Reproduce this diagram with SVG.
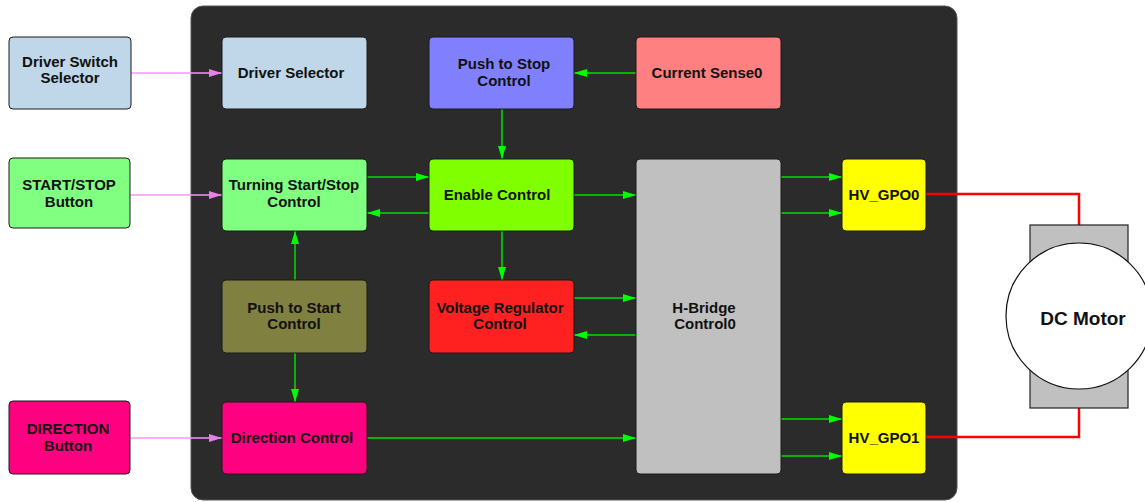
<svg xmlns="http://www.w3.org/2000/svg" width="1145" height="502" viewBox="0 0 1145 502">
<defs>
<style>
.n{stroke:#1a1a1a;stroke-width:1}
.t{font-family:"Liberation Sans",Arial,sans-serif;font-weight:bold;font-size:15px;fill:#111;text-anchor:middle}
.g{stroke:#00e000;stroke-width:1.5;fill:none;marker-end:url(#ag)}
.p{stroke:#f59af5;stroke-width:1.5;fill:none;marker-end:url(#ap)}
.r{stroke:#ff0000;stroke-width:2.5;fill:none}
</style>
<marker id="ag" markerUnits="userSpaceOnUse" markerWidth="14" markerHeight="9" refX="13" refY="4" orient="auto"><path d="M0,0 L13,4 L0,8 z" fill="#00ff00"/></marker>
<marker id="ap" markerUnits="userSpaceOnUse" markerWidth="14" markerHeight="9" refX="13" refY="4" orient="auto"><path d="M0,0 L13,4 L0,8 z" fill="#e880e8"/></marker>
</defs>
<rect width="1145" height="502" fill="#ffffff"/>
<rect id="container" x="191" y="6" width="766" height="494" rx="12" fill="#2b2b2b" stroke="#555" stroke-width="1"/>

<g id="connectors">
<path class="p" d="M131,73 L222,73"/>
<path class="p" d="M130,195 L222,195"/>
<path class="p" d="M130,438 L222,438"/>
<path class="g" d="M636,73 L574,73"/>
<path class="g" d="M502,109 L502,159"/>
<path class="g" d="M367,177 L429,177"/>
<path class="g" d="M429,213 L367,213"/>
<path class="g" d="M574,195 L636,195"/>
<path class="g" d="M502,231 L502,280"/>
<path class="g" d="M574,298 L636,298"/>
<path class="g" d="M636,335 L574,335"/>
<path class="g" d="M295,280 L295,231"/>
<path class="g" d="M295,353 L295,402"/>
<path class="g" d="M367,438 L636,438"/>
<path class="g" d="M781,177 L842,177"/>
<path class="g" d="M781,213 L842,213"/>
<path class="g" d="M781,419 L842,419"/>
<path class="g" d="M781,456 L842,456"/>
<path class="r" d="M926,194 L1079,194 L1079,225"/>
<path class="r" d="M926,437 L1079,437 L1079,408"/>
</g>

<g id="driver-switch-selector"><rect class="n" x="9" y="37" width="122" height="72" rx="4" fill="#bfd7e8"/><text class="t" x="70" y="67">Driver Switch</text><text class="t" x="70" y="83">Selector</text></g>
<g id="start-stop-button"><rect class="n" x="9" y="158" width="121" height="70" rx="4" fill="#80ff80"/><text class="t" x="69" y="190">START/STOP</text><text class="t" x="69" y="207">Button</text></g>
<g id="direction-button"><rect class="n" x="9" y="401" width="121" height="73" rx="4" fill="#ff0080"/><text class="t" x="68" y="434">DIRECTION</text><text class="t" x="68" y="451">Button</text></g>

<g id="driver-selector"><rect class="n" x="222" y="37" width="145" height="72" rx="4" fill="#bfd7e8"/><text class="t" x="291" y="78">Driver Selector</text></g>
<g id="turning-start-stop"><rect class="n" x="222" y="159" width="145" height="72" rx="4" fill="#80ff80"/><text class="t" x="294" y="190">Turning Start/Stop</text><text class="t" x="294" y="207">Control</text></g>
<g id="push-to-start"><rect class="n" x="222" y="280" width="145" height="73" rx="4" fill="#808040"/><text class="t" x="294" y="313">Push to Start</text><text class="t" x="294" y="329">Control</text></g>
<g id="direction-control"><rect class="n" x="222" y="402" width="145" height="72" rx="4" fill="#ff0080"/><text class="t" x="292" y="443">Direction Control</text></g>

<g id="push-to-stop"><rect class="n" x="429" y="37" width="145" height="72" rx="4" fill="#8080ff"/><text class="t" x="504" y="69">Push to Stop</text><text class="t" x="504" y="86">Control</text></g>
<g id="enable-control"><rect class="n" x="429" y="159" width="145" height="72" rx="4" fill="#80ff00"/><text class="t" x="497" y="200">Enable Control</text></g>
<g id="voltage-regulator"><rect class="n" x="429" y="280" width="145" height="73" rx="4" fill="#ff2020"/><text class="t" x="500" y="313">Voltage Regulator</text><text class="t" x="500" y="329">Control</text></g>

<g id="current-sense0"><rect class="n" x="636" y="37" width="145" height="72" rx="4" fill="#ff8080"/><text class="t" x="707" y="78">Current Sense0</text></g>
<g id="h-bridge"><rect class="n" x="636" y="159" width="145" height="315" rx="4" fill="#c0c0c0"/><text class="t" x="704" y="313">H-Bridge</text><text class="t" x="705" y="329">Control0</text></g>

<g id="hv-gpo0"><rect class="n" x="842" y="159" width="84" height="72" rx="4" fill="#ffff00"/><text class="t" x="884" y="200">HV_GPO0</text></g>
<g id="hv-gpo1"><rect class="n" x="842" y="402" width="84" height="72" rx="4" fill="#ffff00"/><text class="t" x="884" y="443">HV_GPO1</text></g>

<g id="dc-motor"><rect x="1030" y="225" width="98" height="183" fill="#c0c0c0" stroke="#222" stroke-width="1.2"/><circle cx="1079" cy="316" r="73" fill="#ffffff" stroke="#111" stroke-width="1.2"/><text class="t" x="1083" y="325" style="font-size:19px">DC Motor</text></g>
</svg>
